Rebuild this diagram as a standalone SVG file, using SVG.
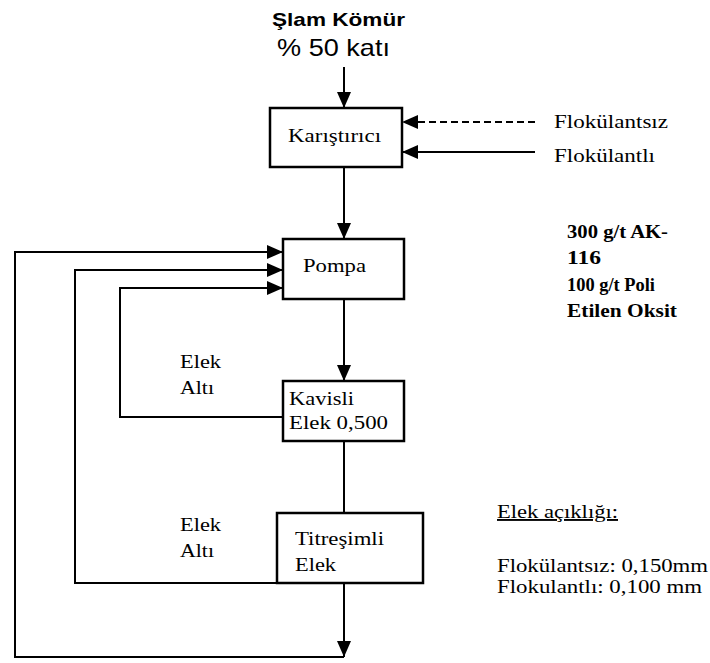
<svg xmlns="http://www.w3.org/2000/svg" width="710" height="663" viewBox="0 0 710 663">
<style>
.box{fill:#fff;stroke:#000;stroke-width:2.5}
.ln{fill:none;stroke:#000;stroke-width:2}
.t{font-family:"Liberation Serif","Times New Roman",serif;font-size:19px;fill:#000}
.b{font-weight:bold}
.s{font-family:"Liberation Sans",Arial,sans-serif;fill:#000}
</style>
<defs>
<marker id="ah" markerUnits="userSpaceOnUse" markerWidth="16" markerHeight="14" refX="16" refY="7" orient="auto">
<path d="M0,0 L16,7 L0,14 z" fill="#000"/>
</marker>
</defs>
<rect width="710" height="663" fill="#fff"/>
<g id="feed">
<text class="s b" x="272" y="26" font-size="19" textLength="133" lengthAdjust="spacingAndGlyphs">Şlam Kömür</text>
<text class="s" x="277" y="56" font-size="24" textLength="113" lengthAdjust="spacingAndGlyphs">% 50 katı</text>
</g>
<g id="flok-labels">
<text class="t" x="554" y="128" textLength="114" lengthAdjust="spacingAndGlyphs">Flokülantsız</text>
<text class="t" x="554" y="162" textLength="101" lengthAdjust="spacingAndGlyphs">Flokülantlı</text>
</g>
<g id="karistirici">
<rect class="box" x="270" y="108" width="132" height="59"/>
<text class="t" x="288" y="142" textLength="93" lengthAdjust="spacingAndGlyphs">Karıştırıcı</text>
</g>
<g id="pompa">
<rect class="box" x="283" y="239" width="121" height="60"/>
<text class="t" x="303" y="272" textLength="63" lengthAdjust="spacingAndGlyphs">Pompa</text>
</g>
<g id="kavisli">
<rect class="box" x="283" y="381" width="121" height="60"/>
<text class="t" x="289" y="405" textLength="65" lengthAdjust="spacingAndGlyphs">Kavisli</text>
<text class="t" x="289" y="429" textLength="99" lengthAdjust="spacingAndGlyphs">Elek 0,500</text>
</g>
<g id="titresimli">
<rect class="box" x="277" y="513" width="146" height="70"/>
<text class="t" x="295" y="545" textLength="89" lengthAdjust="spacingAndGlyphs">Titreşimli</text>
<text class="t" x="295" y="571" textLength="41" lengthAdjust="spacingAndGlyphs">Elek</text>
</g>
<g id="reagents">
<text class="t b" x="567" y="238" textLength="101" lengthAdjust="spacingAndGlyphs">300 g/t AK-</text>
<text class="t b" x="567" y="264" textLength="34" lengthAdjust="spacingAndGlyphs">116</text>
<text class="t b" x="567" y="291" textLength="88" lengthAdjust="spacingAndGlyphs">100 g/t Poli</text>
<text class="t b" x="567" y="317" textLength="110" lengthAdjust="spacingAndGlyphs">Etilen Oksit</text>
</g>
<g id="elek-alti-labels">
<text class="t" x="180" y="368" textLength="41" lengthAdjust="spacingAndGlyphs">Elek</text>
<text class="t" x="180" y="394" textLength="34" lengthAdjust="spacingAndGlyphs">Altı</text>
<text class="t" x="180" y="531" textLength="41" lengthAdjust="spacingAndGlyphs">Elek</text>
<text class="t" x="180" y="557" textLength="34" lengthAdjust="spacingAndGlyphs">Altı</text>
</g>
<g id="elek-aciklik">
<text class="t" x="497" y="518" textLength="121" lengthAdjust="spacingAndGlyphs" text-decoration="underline">Elek açıklığı:</text>
<text class="t" x="497" y="572" textLength="211" lengthAdjust="spacingAndGlyphs">Flokülantsız: 0,150mm</text>
<text class="t" x="497" y="593" textLength="205" lengthAdjust="spacingAndGlyphs">Flokulantlı: 0,100 mm</text>
</g>
<g id="connectors">
<path class="ln" d="M344,67 V108" marker-end="url(#ah)"/>
<path class="ln" d="M535,122 H402" stroke-dasharray="7,4" marker-end="url(#ah)"/>
<path class="ln" d="M535,152 H402" marker-end="url(#ah)"/>
<path class="ln" d="M344,167 V239" marker-end="url(#ah)"/>
<path class="ln" d="M344,299 V381" marker-end="url(#ah)"/>
<path class="ln" d="M344,441 V513"/>
<path class="ln" d="M344,583 V657" marker-end="url(#ah)"/>
<path class="ln" d="M344,657 H15 V252 H283" marker-end="url(#ah)"/>
<path class="ln" d="M277,583 H75 V270 H283" marker-end="url(#ah)"/>
<path class="ln" d="M283,417 H120 V288 H283" marker-end="url(#ah)"/>
</g>
</svg>
